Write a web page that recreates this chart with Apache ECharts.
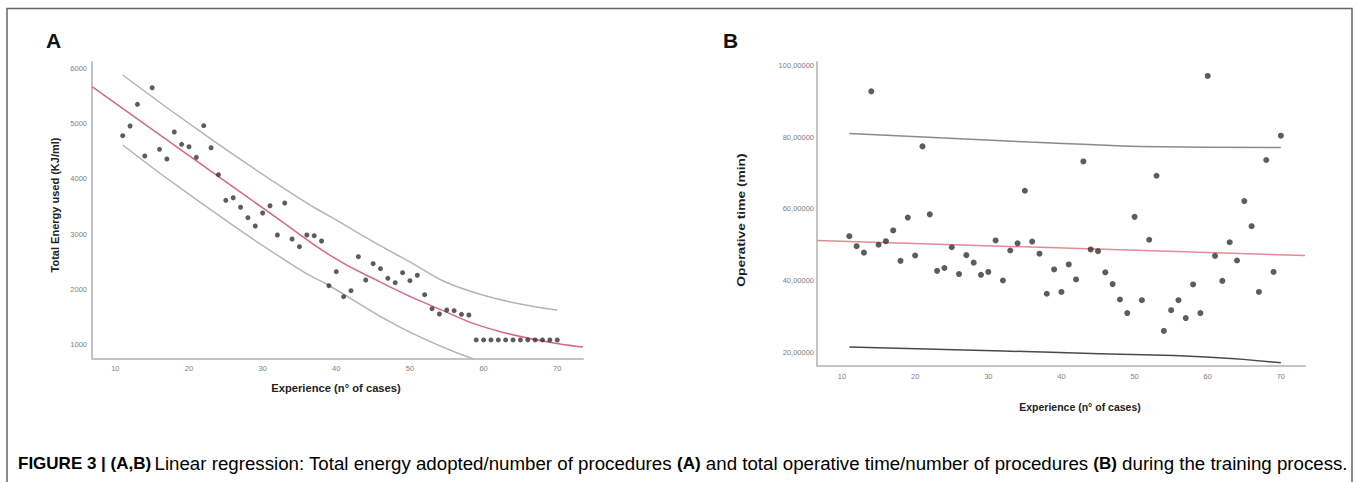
<!DOCTYPE html>
<html>
<head>
<meta charset="utf-8">
<script src="https://cdn.jsdelivr.net/npm/echarts@6/dist/echarts.min.js"></script>
<style>
html,body{margin:0;padding:0;background:#fff;}
#chart{width:1358px;height:482px;}
</style>
</head>
<body>
<div id="chart"></div>
<script>
// ---------- Panel A data ----------
const casesA = [11,12,13,14,15,16,17,18,19,20,21,22,23,24,25,26,27,28,29,30,31,32,33,34,35,36,37,38,39,40,41,42,43,44,45,46,47,48,49,50,51,52,53,54,55,56,57,58,59,60,61,62,63,64,65,66,67,68,69,70];
const energyA = [4783,4958,5351,4415,5652,4536,4361,4850,4627,4583,4391,4964,4565,4076,3612,3659,3486,3297,3147,3382,3513,2984,3563,2911,2772,2984,2971,2875,2065,2319,1866,1975,2591,2168,2464,2373,2199,2120,2301,2156,2254,1902,1649,1553,1625,1612,1547,1534,1082,1082,1082,1082,1082,1082,1082,1082,1082,1082,1082,1082];
// fitted curve and interval bounds
const fitAx = [6.83,20,32.35,39.1,46,53.2,62.3,73.5];
const fitAy = [5670,4420,3255,2621,2130,1685,1232,955];
const upperAx = [11,23,35.1,39.2,48.7,57.7,70];
const upperAy = [5882,4720,3636,3315,2591,1987,1625];
const lowerAx = [11,21.06,35.1,38.9,48.7,58.6];
const lowerAy = [4614,3618,2350,2078,1310,737];
const ticksAx = [10,20,30,40,50,60,70];
const ticksAy = [1000,2000,3000,4000,5000,6000];

// ---------- Panel B data ----------
const casesB = [11,12,13,14,15,16,17,18,19,20,21,22,23,24,25,26,27,28,29,30,31,32,33,34,35,36,37,38,39,40,41,42,43,44,45,46,47,48,49,50,51,52,53,54,55,56,57,58,59,60,61,62,63,64,65,66,67,68,69,70];
const timeB = [52.4,49.6,47.8,92.9,50.0,51.0,54.0,45.5,57.6,47.0,77.5,58.5,42.7,43.5,49.3,41.8,47.1,45.0,41.6,42.4,51.2,40.0,48.4,50.4,65.1,50.9,47.5,36.3,43.1,36.8,44.5,40.3,73.3,48.7,48.2,42.3,39.0,34.7,30.9,57.8,34.5,51.4,69.3,25.9,31.7,34.5,29.5,38.9,30.9,97.2,46.9,39.9,50.7,45.6,62.2,55.2,36.8,73.7,42.4,80.5];
const fitBx = [6.6,73.3];
const fitBy = [51.2,47.0];
const upperBx = [11,35.7,43,50.7,70];
const upperBy = [81.1,78.7,78.1,77.5,77.2];
const lowerBx = [11,32,45.2,59.8,70];
const lowerBy = [21.4,20.3,19.5,18.6,17.0];
const ticksBx = [10,20,30,40,50,60,70];
const ticksBy = [20,40,60,80,100];

const zip = (a, b) => a.map((v, i) => [v, b[i]]);

const chart = echarts.init(document.getElementById('chart'), null, {renderer: 'svg'});

const axisLine = {show: true, lineStyle: {color: '#c4c4c4', width: 2}};
const lblStyle = {color: '#808080', fontSize: 7.5, fontFamily: 'Liberation Sans, Arial, sans-serif'};
const plain = v => String(v);

const titleFont = 'Liberation Sans, Arial, sans-serif';
const capFont = 'Liberation Sans, Arial, sans-serif';

const option = {
  animation: false,
  backgroundColor: '#fff',
  grid: [
    {left: 92, top: 62, width: 491, height: 297},
    {left: 817, top: 62, width: 488, height: 304}
  ],
  xAxis: [
    {type: 'value', gridIndex: 0, min: 6.83, max: 73.5,
     axisLine: axisLine, axisTick: {show: false}, splitLine: {show: false},
     axisLabel: Object.assign({customValues: ticksAx, margin: 5, formatter: plain}, lblStyle)},
    {type: 'value', gridIndex: 1, min: 6.58, max: 73.3,
     axisLine: axisLine, axisTick: {show: false}, splitLine: {show: false},
     axisLabel: Object.assign({customValues: ticksBx, margin: 6, formatter: plain}, lblStyle)}
  ],
  yAxis: [
    {type: 'value', gridIndex: 0, min: 737, max: 6118,
     axisLine: axisLine, axisTick: {show: false}, splitLine: {show: false},
     axisLabel: Object.assign({customValues: ticksAy, margin: 5, formatter: plain}, lblStyle)},
    {type: 'value', gridIndex: 1, min: 16.1, max: 101.1,
     axisLine: axisLine, axisTick: {show: false}, splitLine: {show: false},
     axisLabel: Object.assign({customValues: ticksBy, margin: 3,
       formatter: v => v.toFixed(5).replace('.', ',')}, lblStyle)}
  ],
  series: [
    {type: 'line', xAxisIndex: 0, yAxisIndex: 0, data: zip(upperAx, upperAy), smooth: true,
     showSymbol: false, lineStyle: {color: '#b4b4b4', width: 1.5}, z: 2},
    {type: 'line', xAxisIndex: 0, yAxisIndex: 0, data: zip(lowerAx, lowerAy), smooth: true,
     showSymbol: false, lineStyle: {color: '#b4b4b4', width: 1.5}, z: 2},
    {type: 'line', xAxisIndex: 0, yAxisIndex: 0, data: zip(fitAx, fitAy), smooth: true,
     showSymbol: false, lineStyle: {color: '#d46a80', width: 1.5}, z: 3},
    {type: 'scatter', xAxisIndex: 0, yAxisIndex: 0, data: zip(casesA, energyA),
     symbolSize: 5, itemStyle: {color: '#333'}, z: 4},

    {type: 'line', xAxisIndex: 1, yAxisIndex: 1, data: zip(upperBx, upperBy), smooth: true,
     showSymbol: false, lineStyle: {color: '#8a8a8a', width: 1.5}, z: 2},
    {type: 'line', xAxisIndex: 1, yAxisIndex: 1, data: zip(lowerBx, lowerBy), smooth: true,
     showSymbol: false, lineStyle: {color: '#4a4a4a', width: 1.5}, z: 2},
    {type: 'line', xAxisIndex: 1, yAxisIndex: 1, data: zip(fitBx, fitBy),
     showSymbol: false, lineStyle: {color: '#e58a94', width: 1.5}, z: 3},
    {type: 'scatter', xAxisIndex: 1, yAxisIndex: 1, data: zip(casesB, timeB),
     symbolSize: 6, itemStyle: {color: '#333'}, z: 4}
  ],
  graphic: [
    {type: 'rect', shape: {x: 7, y: 8.5, width: 1345, height: 500},
     style: {fill: 'none', stroke: '#666', lineWidth: 1.5}, silent: true, z: 0},
    {type: 'text', x: 46, y: 40, style: {text: 'A', font: 'bold 21px ' + titleFont, fill: '#111', textVerticalAlign: 'middle'}},
    {type: 'text', x: 723, y: 40, style: {text: 'B', font: 'bold 21px ' + titleFont, fill: '#111', textVerticalAlign: 'middle'}},
    {type: 'text', x: 55, y: 205, rotation: Math.PI / 2,
     style: {text: 'Total Energy used (KJ/ml)', font: 'bold 11px ' + titleFont, fill: '#222', textAlign: 'center', textVerticalAlign: 'middle'}},
    {type: 'text', x: 336, y: 388, scaleX: 1.12,
     style: {text: 'Experience (n° of cases)', font: 'bold 10px ' + titleFont, fill: '#222', textAlign: 'center', textVerticalAlign: 'middle'}},
    {type: 'text', x: 741, y: 220, rotation: Math.PI / 2, scaleX: 1.2,
     style: {text: 'Operative time (min)', font: 'bold 11.5px ' + titleFont, fill: '#222', textAlign: 'center', textVerticalAlign: 'middle'}},
    {type: 'text', x: 1080, y: 408, scaleX: 1.05,
     style: {text: 'Experience (n° of cases)', font: 'bold 10px ' + titleFont, fill: '#222', textAlign: 'center', textVerticalAlign: 'middle'}},
    {type: 'text', x: 18, y: 463,
     style: {
       text: '{b|FIGURE 3 | (A,B)} {n|Linear regression: Total energy adopted/number of procedures }{b|(A)}{n| and total operative time/number of procedures }{b|(B)}{n| during the training process.}',
       textVerticalAlign: 'middle',
       rich: {
         b: {fontFamily: capFont, fontWeight: 'bold', fontSize: 17, color: '#222'},
         n: {fontFamily: capFont, fontSize: 18.7, color: '#333'}
       }
     }}
  ]
};
chart.setOption(option);
</script>
</body>
</html>
